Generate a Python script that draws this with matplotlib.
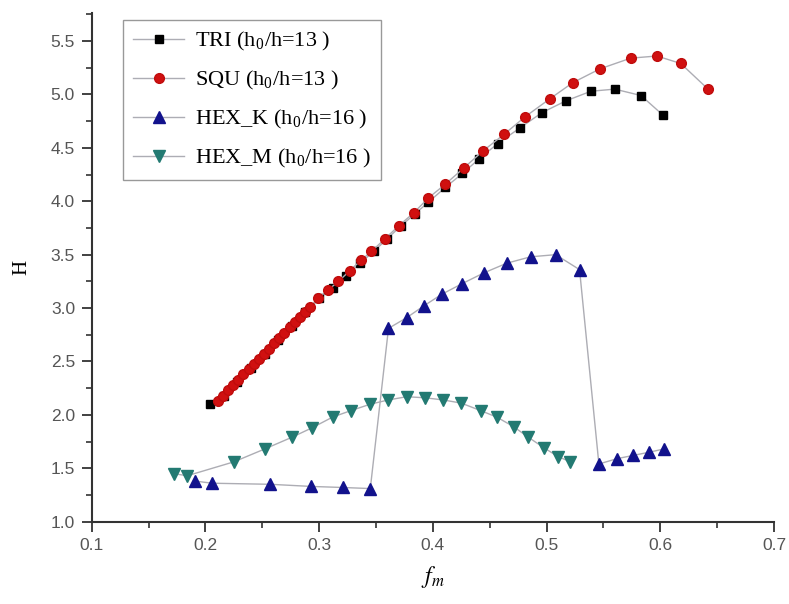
import matplotlib
matplotlib.use("Agg")
import matplotlib.pyplot as plt
from matplotlib.ticker import MultipleLocator

# TRI (h0/h=13)
tri_x = [0.204, 0.216, 0.228, 0.240, 0.252, 0.264, 0.276, 0.288, 0.300, 0.312, 0.324,
         0.336, 0.348, 0.360, 0.372, 0.384, 0.396, 0.411, 0.426, 0.441, 0.457, 0.477,
         0.496, 0.517, 0.539, 0.560, 0.583, 0.602]
tri_y = [2.10, 2.18, 2.31, 2.44, 2.57, 2.70, 2.83, 2.96, 3.09, 3.19, 3.30,
         3.42, 3.53, 3.65, 3.77, 3.88, 3.99, 4.13, 4.26, 4.40, 4.54, 4.69,
         4.83, 4.94, 5.03, 5.05, 4.99, 4.81]

# SQU (h0/h=13)
squ_x = [0.211, 0.2155, 0.220, 0.2245, 0.229, 0.2335, 0.238, 0.2425, 0.247, 0.2515,
         0.256, 0.2605, 0.265, 0.2695, 0.274, 0.2785, 0.283, 0.2875, 0.292, 0.299,
         0.308, 0.317, 0.327, 0.337, 0.346, 0.358, 0.370, 0.383, 0.396, 0.411,
         0.427, 0.444, 0.463, 0.481, 0.503, 0.523, 0.547, 0.574, 0.597, 0.618, 0.642]
squ_y = [2.13, 2.18, 2.23, 2.28, 2.33, 2.38, 2.43, 2.48, 2.52, 2.57,
         2.62, 2.67, 2.72, 2.77, 2.82, 2.87, 2.92, 2.96, 3.01, 3.09,
         3.17, 3.25, 3.35, 3.45, 3.53, 3.65, 3.77, 3.89, 4.03, 4.16,
         4.31, 4.47, 4.63, 4.79, 4.96, 5.11, 5.24, 5.34, 5.36, 5.29, 5.05]

# HEX_K (h0/h=16)
hexk_x = [0.191, 0.206, 0.257, 0.293, 0.321, 0.345, 0.361, 0.377, 0.392, 0.408, 0.426,
          0.445, 0.465, 0.486, 0.508, 0.529, 0.546, 0.562, 0.576, 0.590, 0.603]
hexk_y = [1.38, 1.36, 1.35, 1.33, 1.32, 1.31, 2.81, 2.91, 3.02, 3.13, 3.23,
          3.33, 3.42, 3.48, 3.50, 3.36, 1.54, 1.59, 1.62, 1.65, 1.68]

# HEX_M (h0/h=16)
hexm_x = [0.172, 0.184, 0.225, 0.252, 0.276, 0.294, 0.312, 0.328, 0.345, 0.361, 0.377,
          0.393, 0.409, 0.425, 0.442, 0.456, 0.471, 0.484, 0.498, 0.510, 0.521]
hexm_y = [1.45, 1.43, 1.56, 1.68, 1.79, 1.88, 1.98, 2.04, 2.10, 2.14, 2.17,
          2.16, 2.14, 2.11, 2.04, 1.98, 1.89, 1.79, 1.69, 1.61, 1.56]

labels = ["TRI (h$_\\mathregular{0}$/h=13 )", "SQU (h$_\\mathregular{0}$/h=13 )",
          "HEX_K (h$_\\mathregular{0}$/h=16 )", "HEX_M (h$_\\mathregular{0}$/h=16 )"]

plt.rcParams["mathtext.fontset"] = "stix"

fig = plt.figure(figsize=(7.89, 6.04), dpi=100)
ax = fig.add_axes([0.1162, 0.1363, 0.8648, 0.8417])

line_c = "#adadb4"
ax.plot(tri_x, tri_y, color=line_c, lw=1.0, marker="s", ms=5.8,
        mfc="#000000", mec="#000000", label=labels[0])
ax.plot(squ_x, squ_y, color=line_c, lw=1.0, marker="o", ms=7,
        mfc="#d01010", mec="#c00c0c", label=labels[1])
ax.plot(hexk_x, hexk_y, color=line_c, lw=1.0, marker="^", ms=8,
        mfc="#12128c", mec="#12128c", label=labels[2])
ax.plot(hexm_x, hexm_y, color=line_c, lw=1.0, marker="v", ms=8,
        mfc="#237a72", mec="#237a72", label=labels[3])

ax.set_xlim(0.1, 0.7)
ax.set_ylim(1.0, 5.76)
ax.xaxis.set_major_locator(MultipleLocator(0.1))
ax.xaxis.set_minor_locator(MultipleLocator(0.05))
ax.yaxis.set_major_locator(MultipleLocator(0.5))
ax.yaxis.set_minor_locator(MultipleLocator(0.25))

for s in ["top", "right"]:
    ax.spines[s].set_visible(False)
for s in ["left", "bottom"]:
    ax.spines[s].set_color("#333333")
    ax.spines[s].set_linewidth(1.5)

ax.tick_params(which="major", direction="out", length=7, width=1.3, color="#333333",
               labelsize=12.5, labelcolor="#555555", pad=5)
ax.tick_params(which="minor", direction="out", length=4, width=1.2, color="#333333")
for lb in ax.get_xticklabels() + ax.get_yticklabels():
    lb.set_family("Liberation Sans")

ax.set_xlabel("$f_m$", fontsize=17, labelpad=8)
ax.set_ylabel("H", fontsize=15, family="Liberation Serif", labelpad=14)

leg = ax.legend(loc="upper left", bbox_to_anchor=(0.046, 0.987), frameon=True,
                fancybox=False, edgecolor="#999999", framealpha=1,
                prop={"family": "Liberation Serif", "size": 16},
                handlelength=2.3, handletextpad=0.5, labelspacing=0.72,
                borderpad=0.45, borderaxespad=0)
leg.get_frame().set_linewidth(1.0)

fig.savefig("out.png", dpi=100)
